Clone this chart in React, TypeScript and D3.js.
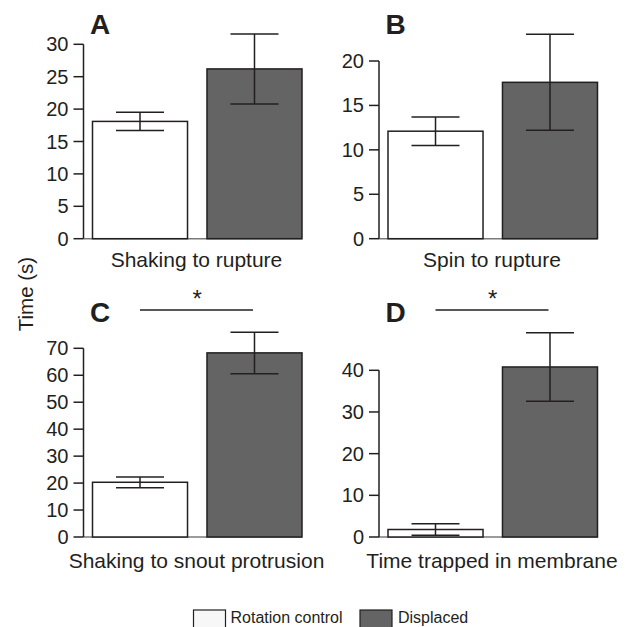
import React from "react";
import * as d3 from "d3";

const panelLetters = ["A", "B", "C", "D"];
const categories = [
  "Shaking to rupture",
  "Spin to rupture",
  "Shaking to snout protrusion",
  "Time trapped in membrane",
];
const groups = ["Rotation control", "Displaced"];
const controlMeans = [18.1, 12.1, 20.3, 1.8];
const controlErr = [1.4, 1.6, 2.0, 1.4];
const displacedMeans = [26.2, 17.6, 68.3, 40.8];
const displacedErr = [5.4, 5.4, 7.7, 8.2];
const yMax = [30, 20, 70, 40];
const tickStep = [5, 5, 10, 10];
const significant = [false, false, true, true];
const yAxisTitle = "Time (s)";

const W = 628;
const H = 627;
const FONT = "'Liberation Sans', Arial, Helvetica, sans-serif";
const INK = "#231f20";
const DARK = "#646464";

// layout per panel (pixel positions)
const axisX = [83.5, 379, 83.5, 379];
const axisBottom = [238.7, 238.7, 537, 537];
const axisTop = [44.3, 61, 348.3, 370.3];

function Panel({ i }: { i: number }) {
  const y = d3.scaleLinear().domain([0, yMax[i]]).range([axisBottom[i], axisTop[i]]);
  const x = d3
    .scaleBand<string>()
    .domain(groups)
    .range([axisX[i] + 9, axisX[i] + 218.5])
    .paddingInner(0.17)
    .paddingOuter(0);
  const ticks = d3.range(0, yMax[i] + 0.001, tickStep[i]);
  const means = [controlMeans[i], displacedMeans[i]];
  const errs = [controlErr[i], displacedErr[i]];
  const fills = ["#ffffff", DARK];
  const bw = x.bandwidth();
  const capW = 48;
  const right = x(groups[1])! + bw;
  const labelY = i < 2 ? 34 : 322;
  const catCenter = axisX[i] + 113;
  const catY = i < 2 ? 267 : 568;
  const c0 = x(groups[0])! + bw / 2;
  const c1 = x(groups[1])! + bw / 2;
  return (
    <g>
      <line x1={axisX[i]} x2={right} y1={y(0)} y2={y(0)} stroke="#7a7a7a" strokeWidth={1.5} />
      <line x1={axisX[i]} x2={axisX[i]} y1={y(0)} y2={y(yMax[i])} stroke={INK} strokeWidth={1.5} />
      {ticks.map((t) => (
        <g key={t}>
          <line x1={axisX[i] - 10} x2={axisX[i]} y1={y(t)} y2={y(t)} stroke={INK} strokeWidth={1.5} />
          <text
            x={axisX[i] - 15}
            y={y(t)}
            dy="0.35em"
            textAnchor="end"
            fontFamily={FONT}
            fontSize={20}
            fill={INK}
          >
            {t}
          </text>
        </g>
      ))}
      {groups.map((g, k) => (
        <rect
          key={g}
          x={x(g)!}
          y={y(means[k])}
          width={bw}
          height={y(0) - y(means[k])}
          fill={fills[k]}
          stroke={INK}
          strokeWidth={1.5}
        />
      ))}
      {groups.map((g, k) => {
        const cx = x(g)! + bw / 2;
        const hi = y(means[k] + errs[k]);
        const lo = y(Math.max(0, means[k] - errs[k]));
        return (
          <g key={g + "e"} stroke={INK} strokeWidth={1.5}>
            <line x1={cx} x2={cx} y1={hi} y2={lo} />
            <line x1={cx - capW / 2} x2={cx + capW / 2} y1={hi} y2={hi} />
            <line x1={cx - capW / 2} x2={cx + capW / 2} y1={lo} y2={lo} />
          </g>
        );
      })}
      <text x={axisX[i] + 6.5} y={labelY} fontFamily={FONT} fontWeight="bold" fontSize={28} fill={INK}>
        {panelLetters[i]}
      </text>
      <text x={catCenter} y={catY} textAnchor="middle" fontFamily={FONT} fontSize={21} fill={INK}>
        {categories[i]}
      </text>
      {significant[i] && (
        <g>
          <line x1={c0} x2={c1 - 1.5} y1={310} y2={310} stroke={INK} strokeWidth={1.5} />
          <text
            x={(c0 + c1) / 2}
            y={307}
            textAnchor="middle"
            fontFamily={FONT}
            fontSize={24}
            fill={INK}
          >
            *
          </text>
        </g>
      )}
    </g>
  );
}

export default function App() {
  return (
    <svg
      width={W}
      height={H}
      style={{ position: "absolute", left: 0, top: 0, background: "#fff" }}
    >
      <rect width={W} height={H} fill="#fff" />
      {[0, 1, 2, 3].map((i) => (
        <Panel key={i} i={i} />
      ))}
      <text
        transform="translate(33,294) rotate(-90)"
        textAnchor="middle"
        fontFamily={FONT}
        fontSize={20.5}
        fill={INK}
      >
        {yAxisTitle}
      </text>
      <rect x={193.5} y={610} width={32} height={20} fill="#f7f7f7" stroke={INK} strokeWidth={1.2} />
      <text x={230.5} y={623} fontFamily={FONT} fontSize={16} fill={INK}>
        {groups[0]}
      </text>
      <rect x={360} y={610} width={32} height={20} fill={DARK} stroke={INK} strokeWidth={1.2} />
      <text x={398} y={623} fontFamily={FONT} fontSize={16} fill={INK}>
        {groups[1]}
      </text>
    </svg>
  );
}
